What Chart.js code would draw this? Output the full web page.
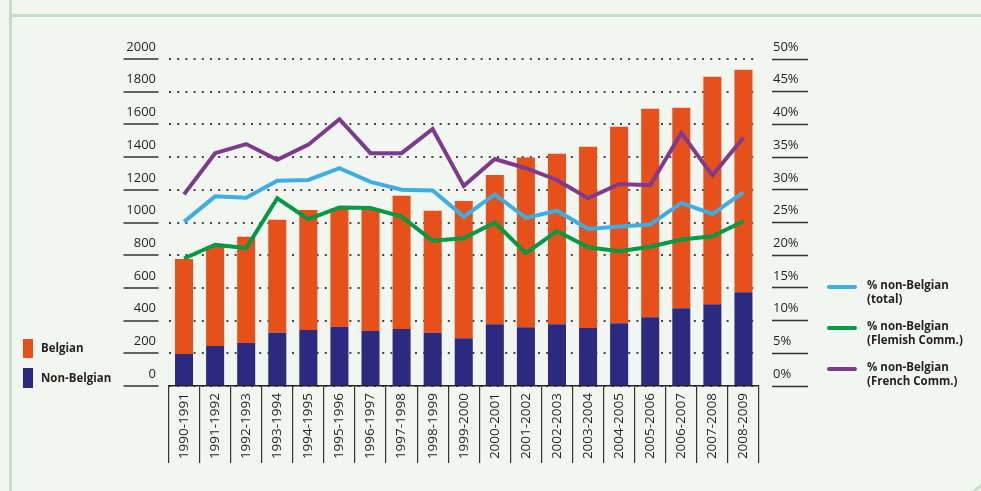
<!DOCTYPE html>
<html>
<head>
<meta charset="utf-8">
<script src="https://cdn.jsdelivr.net/npm/chart.js@4"></script>
<style>
  html, body { margin: 0; padding: 0; background: #f1f6f0; }
  #wrap { position: relative; width: 981px; height: 491px; overflow: hidden; background: #f1f6f0; }
  #frame { position: absolute; left: 9px; top: 14px; width: 980px; height: 480px; border-left: 3px solid #c5ddc7; border-top: 3px solid #c5ddc7; border-right: 3px solid #c5ddc7; border-bottom: 3px solid #c5ddc7; border-bottom-right-radius: 45px; }
  #vline { position: absolute; left: 9px; top: 0; width: 3px; height: 20px; background: #c5ddc7; }
  #chart { position: absolute; left: 0; top: 0; width: 981px; height: 491px; }
  .lg { position: absolute; font-family: "Open Sans", sans-serif; font-weight: bold; font-size: 11.5px; color: #231f20; line-height: 14px; }
  .sw { position: absolute; }
</style>
</head>
<body>
<div id="wrap">
  <div id="frame"></div>
  <div id="vline"></div>
  <div id="chart"><canvas id="mixedChart"></canvas></div>

  <div class="sw" style="left:23px;top:339px;width:10px;height:19px;background:#e8501a"></div>
  <div class="lg" style="left:41px;top:341px">Belgian</div>
  <div class="sw" style="left:23px;top:368px;width:10px;height:20px;background:#2c2a80"></div>
  <div class="lg" style="left:41px;top:371px">Non-Belgian</div>

  <div class="sw" style="left:827px;top:285px;width:30px;height:4px;border-radius:2px;background:#3caee2"></div>
  <div class="lg" style="left:867px;top:278px">% non-Belgian<br>(total)</div>
  <div class="sw" style="left:827px;top:326px;width:30px;height:4px;border-radius:2px;background:#009a44"></div>
  <div class="lg" style="left:867px;top:319px">% non-Belgian<br>(Flemish Comm.)</div>
  <div class="sw" style="left:827px;top:367px;width:30px;height:4px;border-radius:2px;background:#7e3b8e"></div>
  <div class="lg" style="left:867px;top:360px">% non-Belgian<br>(French Comm.)</div>
</div>

<script>
const mixedChart = document.getElementById("mixedChart");

// School years
const labelsYears = [
  "1990-1991", "1991-1992", "1992-1993", "1993-1994", "1994-1995",
  "1995-1996", "1996-1997", "1997-1998", "1998-1999", "1999-2000",
  "2000-2001", "2001-2002", "2002-2003", "2003-2004", "2004-2005",
  "2005-2006", "2006-2007", "2007-2008", "2008-2009",
];

// Bars (left axis)
const nonBelgian = [196, 245, 263, 325, 343, 362, 337, 349, 325, 292, 378, 360, 378, 354, 384, 421, 476, 500, 574];
const belgian = [580, 611, 650, 692, 734, 723, 743, 815, 747, 840, 913, 1037, 1042, 1109, 1201, 1274, 1226, 1391, 1360];

// Lines (right axis, %)
const pctTotal = [25.1, 29.0, 28.8, 31.4, 31.5, 33.3, 31.2, 30.0, 29.9, 25.9, 29.3, 25.7, 26.8, 24.0, 24.4, 24.7, 28.0, 26.3, 29.6];
const pctFlemish = [19.5, 21.6, 21.1, 28.7, 25.5, 27.3, 27.2, 25.9, 22.2, 22.6, 25.0, 20.3, 23.7, 21.2, 20.6, 21.3, 22.4, 22.9, 25.2];
const pctFrench = [29.3, 35.6, 37.0, 34.6, 36.9, 40.8, 35.6, 35.6, 39.3, 30.6, 34.7, 33.3, 31.5, 28.7, 30.9, 30.7, 38.7, 32.2, 38.0];

const textColor = "#231f20";
const tickFont = { family: "'Open Sans', sans-serif", size: 13 };

const dataMixed = {
  labels: labelsYears,
  datasets: [
    {
      type: "line",
      label: "% non-Belgian (French Comm.)",
      data: pctFrench,
      yAxisID: "y1",
      borderColor: "#7e3b8e",
      borderWidth: 4,
      pointRadius: 0,
      tension: 0,
      order: 0,
    },
    {
      type: "line",
      label: "% non-Belgian (total)",
      data: pctTotal,
      yAxisID: "y1",
      borderColor: "#3caee2",
      borderWidth: 4,
      pointRadius: 0,
      tension: 0,
      order: 0,
    },
    {
      type: "line",
      label: "% non-Belgian (Flemish Comm.)",
      data: pctFlemish,
      yAxisID: "y1",
      borderColor: "#009a44",
      borderWidth: 4,
      pointRadius: 0,
      tension: 0,
      order: 0,
    },
    {
      type: "bar",
      label: "Non-Belgian",
      data: nonBelgian,
      yAxisID: "y",
      backgroundColor: "#2c2a80",
      categoryPercentage: 1,
      barPercentage: 0.58,
      order: 1,
    },
    {
      type: "bar",
      label: "Belgian",
      data: belgian,
      yAxisID: "y",
      backgroundColor: "#e8501a",
      categoryPercentage: 1,
      barPercentage: 0.58,
      order: 1,
    },
  ],
};

const configMixed = {
  type: "bar",
  data: dataMixed,
  options: {
    responsive: true,
    maintainAspectRatio: false,
    animation: false,
    layout: {
      padding: { left: 118.5, right: 162, top: 59, bottom: 25 },
    },
    plugins: {
      legend: { display: false },
      tooltip: { enabled: false },
    },
    scales: {
      x: {
        stacked: true,
        afterFit: (s) => { s.height = 80; },
        grid: {
          offset: true,
          drawOnChartArea: false,
          color: "#333",
          lineWidth: 1.2,
          tickLength: 77,
        },
        border: { display: true, color: "#222", width: 1.5 },
        ticks: {
          autoSkip: false,
          minRotation: 90,
          maxRotation: 90,
          padding: -70,
          color: textColor,
          font: { family: "'Open Sans', sans-serif", size: 13.5 },
        },
      },
      y: {
        position: "left",
        stacked: true,
        min: 0,
        max: 2000,
        afterFit: (s) => { s.width = 50; },
        grid: {
          color: "#444",
          lineWidth: 2,
          tickLength: 45,
          tickColor: "#333",
          tickWidth: 1.5,
          tickBorderDash: [35, 20],
        },
        border: { display: false, dash: [2, 6.2] },
        ticks: {
          stepSize: 200,
          padding: -32.5,
          labelOffset: -12,
          color: textColor,
          font: tickFont,
          callback: (v) => String(v),
        },
      },
      y1: {
        position: "right",
        min: 0,
        max: 50,
        afterFit: (s) => { s.width = 60; },
        grid: {
          drawOnChartArea: false,
          tickLength: 50,
          tickColor: "#333",
          tickWidth: 1.5,
          tickBorderDash: [0, 13, 36, 100],
        },
        border: { display: false },
        ticks: {
          stepSize: 5,
          padding: -36,
          labelOffset: -12,
          color: textColor,
          font: tickFont,
          callback: (v) => v + "%",
        },
      },
    },
  },
};

new Chart(mixedChart, configMixed);
</script>
</body>
</html>
